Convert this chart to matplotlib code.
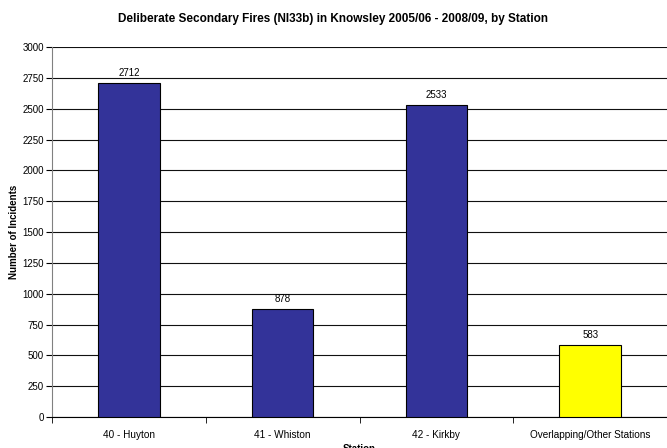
import matplotlib
matplotlib.use("Agg")
import matplotlib.pyplot as plt
import numpy as np

stations = ["40 - Huyton", "41 - Whiston", "42 - Kirkby", "Overlapping/Other Stations"]
incidents = [2712, 878, 2533, 583]
bar_colors = ["#333399", "#333399", "#333399", "#FFFF00"]
y_ticks = list(range(0, 3001, 250))

plt.rcParams["font.family"] = ["Liberation Sans", "DejaVu Sans"]

fig = plt.figure(figsize=(6.67, 4.48), dpi=100)
ax = fig.add_axes([0.078, 0.069, 0.922, 0.826])

x = np.arange(len(stations))
ax.bar(x, incidents, width=0.4, color=bar_colors, edgecolor="black", linewidth=0.8, zorder=3)

# value labels above bars
for a, b in zip(x, incidents):
    ax.text(a, b + 40, str(b), ha="center", va="bottom", fontsize=7)

ax.set_xlim(-0.5, len(stations) - 0.5)
ax.set_ylim(0, 3000)
ax.set_yticks(y_ticks)
ax.set_yticklabels([str(v) for v in y_ticks], fontsize=7)
ax.set_xticks(x)
ax.set_xticklabels(stations, fontsize=7.2)
ax.set_xticks(np.arange(len(stations) + 1) - 0.5, minor=True)
ax.tick_params(axis="x", which="major", length=0, pad=9)
ax.tick_params(axis="x", which="minor", length=4, direction="out", color="black")
ax.tick_params(axis="y", length=4, direction="out", pad=2)

ax.yaxis.grid(True, color="#111111", linewidth=0.8, zorder=0)
ax.set_axisbelow(True)
for side in ["top", "right"]:
    ax.spines[side].set_visible(False)
ax.spines["left"].set_color("#808080")
ax.spines["bottom"].set_color("black")

ax.set_ylabel("Number of Incidents", fontsize=7, fontweight="bold", labelpad=2)
ax.set_xlabel("Station", fontsize=7, fontweight="bold", labelpad=3)
fig.suptitle("Deliberate Secondary Fires (NI33b) in Knowsley 2005/06 - 2008/09, by Station",
             fontsize=8.5, fontweight="bold", y=0.97)

fig.savefig("out.png", dpi=100)
